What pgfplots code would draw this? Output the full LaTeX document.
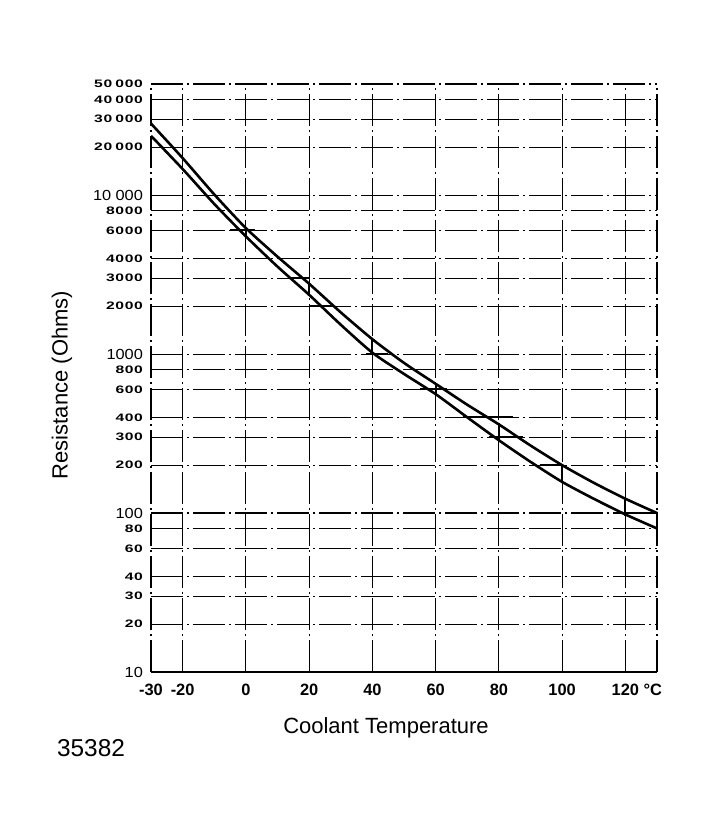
\documentclass[border=0pt]{standalone}
\usepackage{fontspec}
\setmainfont{Liberation Sans}
\newfontfamily\tickfont[FakeStretch=1.45,LetterSpace=6]{Liberation Sans}
\newfontfamily\bigtickfont[FakeStretch=1.12]{Liberation Sans}
\usepackage{pgfplots}
\pgfplotsset{compat=1.18}
\newcommand\Lg[1]{{\bigtickfont\fontsize{7.3}{8}\selectfont #1}}
\newcommand\Sm[1]{{\tickfont\bfseries\fontsize{5.4}{6}\selectfont #1}}
\newcommand\ts{\hspace{0.3em}}
\begin{document}
\begin{tikzpicture}
\useasboundingbox (-75.5pt,-79pt) rectangle (275pt,336pt);
\begin{axis}[
  at={(0,0)}, anchor=south west,
  scale only axis, width=253pt, height=294pt,
  xmin=-30, xmax=130,
  ymode=log, ymin=10, ymax=50000,
  axis line style={draw=none},
  major tick length=0pt,
  grid=major,
  major grid style={line width=0.55pt, black, dash pattern=on 16pt off 2pt on 1pt off 2pt},
  xtick={-30,-20,0,20,40,60,80,100,120},
  xticklabels={-30,-20,0,20,40,60,80,100,120\rlap{ °C}},
  xticklabel style={font=\bfseries\fontsize{8.2}{9}\selectfont, yshift=-2.5pt},
  ytick={10,20,30,40,60,80,100,200,300,400,600,800,1000,2000,3000,4000,6000,8000,10000,20000,30000,40000,50000},
  yticklabels={\Lg{10},\Sm{20},\Sm{30},\Sm{40},\Sm{60},\Sm{80},\Lg{100},\Sm{200},\Sm{300},\Sm{400},\Sm{600},\Sm{800},\Lg{1000},\Sm{2000},\Sm{3000},\Sm{4000},\Sm{6000},\Sm{8000},\Lg{10\ts000},\Sm{20\ts000},\Sm{30\ts000},\Sm{40\ts000},\Sm{50\ts000}},
  yticklabel style={xshift=-0.5pt},
  xlabel={Coolant Temperature},
  ylabel={Resistance (Ohms)},
  xlabel style={at={(axis description cs:0.4644,-0.0952)}, anchor=center, font=\fontsize{11}{13}\selectfont},
  ylabel style={at={(axis description cs:-0.1759,0.488)}, anchor=center, rotate=0, font=\fontsize{11}{13}\selectfont},
  clip=false,
]
% frame
\draw[line width=0.55pt, dash pattern=on 16pt off 2pt on 1pt off 2pt] (rel axis cs:0,0) -- (rel axis cs:0,1);
\draw[line width=0.55pt, dash pattern=on 16pt off 2pt on 1pt off 2pt] (rel axis cs:1,0) -- (rel axis cs:1,1);
\draw[line width=1pt] (rel axis cs:0,0) -- (rel axis cs:1,0);
% upper tolerance curve
\addplot[black, line width=1.3pt, smooth, tension=0.4] coordinates {
(-30,28200) (-20,17100) (-10,10100) (0,6200) (10,4100) (20,2770) (30,1830)
(40,1240) (50,880) (60,650) (70,480) (80,361) (90,266) (100,200) (110,155) (120,123) (130,100)};
% lower tolerance curve
\addplot[black, line width=1.3pt, smooth, tension=0.4] coordinates {
(-30,23600) (-20,14600) (-10,8800) (0,5500) (10,3550) (20,2360) (30,1530)
(40,1020) (50,750) (60,560) (70,400) (80,287) (90,210) (100,157) (110,123) (120,98) (130,80)};
% tolerance markers: vertical
\addplot[black, line width=1.1pt] coordinates {(0,5400) (0,6300)};
\addplot[black, line width=1.1pt] coordinates {(20,2330) (20,2800)};
\addplot[black, line width=1.1pt] coordinates {(40,1000) (40,1260)};
\addplot[black, line width=1.1pt] coordinates {(60,550) (60,660)};
\addplot[black, line width=1.1pt] coordinates {(80,282) (80,366)};
\addplot[black, line width=1.1pt] coordinates {(100,154) (100,203)};
\addplot[black, line width=1.1pt] coordinates {(120,96) (120,125)};
\addplot[black, line width=1.1pt] coordinates {(130,79) (130,101)};
% tolerance markers: horizontal
\addplot[black, line width=1.1pt] coordinates {(-5,6000) (3,6000)};
\addplot[black, line width=1.1pt] coordinates {(14,3000) (20,3000)};
\addplot[black, line width=1.1pt] coordinates {(20,2000) (27,2000)};
\addplot[black, line width=1.1pt] coordinates {(38,1000) (45,1000)};
\addplot[black, line width=1.1pt] coordinates {(55,600) (63.5,600)};
\addplot[black, line width=1.1pt] coordinates {(68.5,400) (84.5,400)};
\addplot[black, line width=1.1pt] coordinates {(77,300) (87.5,300)};
\addplot[black, line width=1.1pt] coordinates {(93,200) (100,200)};
\addplot[black, line width=1.1pt] coordinates {(116.5,100) (130,100)};
\end{axis}
\node[font=\fontsize{12.2}{14}\selectfont, anchor=center] at (-30pt,-38pt) {35382};
\end{tikzpicture}
\end{document}
